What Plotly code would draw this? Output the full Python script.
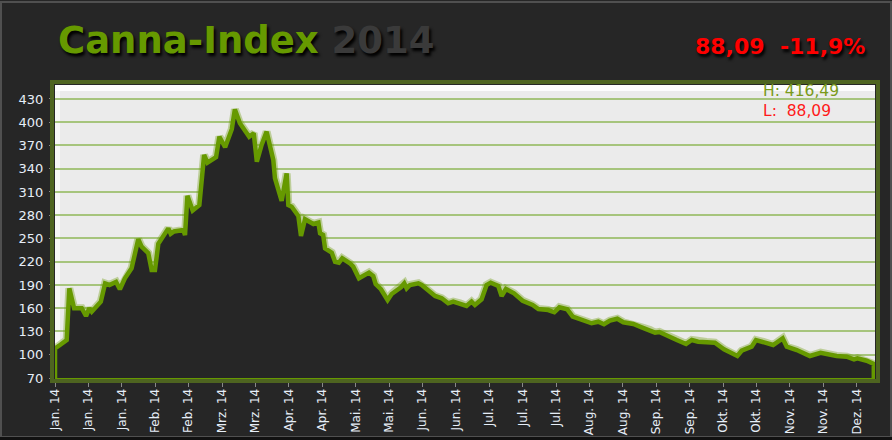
import plotly.graph_objects as go

# ---- data (day offset from 1 Jan 2014, index value) ----
days = [0, 2.1, 4.9, 6.0, 8.0, 11.2, 13.0, 14.4, 15.4, 19.2, 21.0, 22.8, 25.6, 27.2, 29.3,
        32.1, 34.9, 36.3, 39.1, 40.5, 41.9, 43.3, 47.5, 48.5, 49.9, 53.8, 54.5, 55.5, 57.7,
        60.5, 62.5, 63.9, 67.5, 68.9, 71.3, 74.1, 75.4, 77.5, 81.4, 83.3, 84.6, 86.6, 88.7,
        91.5, 92.2, 95.0, 97.1, 97.8, 99.2, 102.0, 103.1, 104.8, 108.3, 110.4, 111.1, 112.4,
        113.2, 116.0, 117.4, 119.0, 120.4, 123.6, 125.0, 127.4, 131.6, 133.4, 134.4, 136.6,
        139.4, 141.1, 145.0, 146.4, 147.4, 148.8, 152.3, 153.7, 155.8, 159.3, 162.1, 164.8,
        166.9, 169.7, 172.5, 174.6, 176.0, 178.8, 180.9, 182.6, 185.8, 187.2, 189.0, 192.4,
        196.0, 200.2, 202.6, 206.7, 209.3, 211.4, 214.7, 217.0, 221.4, 224.9, 227.7, 230.1,
        232.6, 235.7, 238.2, 242.4, 245.9, 249.4, 251.5, 253.3, 257.5, 260.6, 264.5, 266.9,
        269.6, 273.1, 276.6, 280.4, 286.0, 287.8, 292.0, 293.8, 296.9, 301.0, 305.0, 306.7,
        310.9, 316.4, 320.9, 323.1, 327.6, 331.8, 334.9, 336.3, 340.2, 343.2]
values = [108, 112.6, 119, 185.7, 160, 160, 150, 160, 155.6, 168.5, 192, 190, 194, 184.5, 198.6,
          211.5, 249, 239.4, 231, 209.4, 209.4, 243, 263, 256, 259, 261, 254.5, 305, 286,
          293, 357.7, 347.8, 354.8, 381.3, 367.7, 391, 416.49, 398.6, 381.3, 385.7, 349, 370.6, 387.8,
          351.3, 327.7, 298.4, 334, 293, 291, 279, 253.2, 274.8, 268.7, 270.4, 256.7, 254.5,
          237.3, 231.7, 220, 218.8, 224.4, 218, 213.6, 198.6, 205.9, 201.6, 191.3, 184.5,
          170.6, 178.4, 187, 192.2, 185.7, 190, 192.2, 190, 184.5, 175.8, 172.8, 166.4,
          168.5, 166.4, 162.9, 168.5, 164.2, 171.5, 190, 193, 188.7, 175.8, 184.8, 179.3,
          169.7, 164.2, 159, 157.7, 154.8, 161.2, 158.6, 149.1, 144.8, 140.6, 142.6, 139.3,
          144, 146.5, 141.9, 139.7, 135.4, 132, 128.5, 129.4, 124.2, 119, 113.9, 119,
          116.8, 116.5, 115.5, 107, 98.4, 105.2, 110.4, 119, 116.5, 112.6, 121.2, 110.4,
          106.1, 98.4, 102.6, 101, 98.4, 97.5, 94.1, 95.4, 92.3, 88.09]

tick_days = [0, 14, 28, 42, 56, 70, 84, 98, 112, 126, 140, 154, 168, 182, 196, 210,
             224, 238, 252, 266, 280, 294, 308, 322, 336]
tick_labels = ["Jan. 14", "Jan. 14", "Jan. 14", "Feb. 14", "Feb. 14", "Mrz. 14", "Mrz. 14",
               "Apr. 14", "Apr. 14", "Mai. 14", "Mai. 14", "Jun. 14", "Jun. 14", "Jul. 14",
               "Jul. 14", "Jul. 14", "Aug. 14", "Aug. 14", "Sep. 14", "Sep. 14", "Okt. 14",
               "Okt. 14", "Nov. 14", "Nov. 14", "Dez. 14"]
y_ticks = [70, 100, 130, 160, 190, 220, 250, 280, 310, 340, 370, 400, 430]

title_main = "Canna-Index"
title_year = "2014"
last_text = "88,09  -11,9%"
high_text = "H: 416,49"
low_text = "L:  88,09"

Y_MIN, Y_MAX = 70, 448
X_MAX = 343.7

W, H = 892, 440
ML, MR, MT, MB = 55, 17, 85, 62
PW, PH = W - ML - MR, H - MT - MB


def px(x):
    return (x - ML) / PW


def py(y):
    return (H - MB - y) / PH


GREEN = "#669900"
BG = "#262626"

fig = go.Figure()

# area outline (closed to the axis floor at both ends)
xs = [days[0]] + days + [days[-1]]
ys = [Y_MIN] + values + [Y_MIN]
fig.add_trace(go.Scatter(
    x=xs, y=ys, mode="lines",
    line=dict(color="rgba(102,153,0,0.35)", width=8),
    hoverinfo="skip", showlegend=False))
fig.add_trace(go.Scatter(
    x=xs, y=ys, mode="lines", fill="tozeroy", fillcolor=BG,
    line=dict(color=GREEN, width=4.5),
    showlegend=False))

shapes = [
    # white bevel at top of plot
    dict(type="rect", xref="paper", yref="paper", x0=0, x1=1, y0=py(91), y1=1,
         fillcolor="rgba(255,255,255,0.85)", line=dict(width=0), layer="below"),
    dict(type="rect", xref="paper", yref="paper", x0=0, x1=px(60), y0=0, y1=1,
         fillcolor="rgba(255,255,255,0.6)", line=dict(width=0), layer="below"),
    # plot frame
    dict(type="rect", xref="paper", yref="paper", x0=px(52), x1=px(878), y0=py(381), y1=py(82),
         line=dict(color="#4e6420", width=4), fillcolor="rgba(0,0,0,0)", layer="above"),
    # panel border
    dict(type="rect", xref="paper", yref="paper", x0=px(1), x1=px(891), y0=py(437), y1=py(2),
         line=dict(color="#505050", width=2), fillcolor="rgba(0,0,0,0)", layer="below"),
    dict(type="rect", xref="paper", yref="paper", x0=px(0), x1=px(892), y0=py(440), y1=py(437),
         line=dict(width=0), fillcolor="#111111", layer="below"),
]

shadow = "2px 3px 3px #000000"
annotations = [
    dict(xref="paper", yref="paper", x=px(56), y=py(41), xanchor="left", yanchor="middle",
         text=f"{title_main} <span style='color:#3a3a3a'>{title_year}</span>",
         showarrow=False,
         font=dict(family="DejaVu Sans", size=37, color=GREEN, weight="bold", shadow=shadow)),
    dict(xref="paper", yref="paper", x=px(867), y=py(46), xanchor="right", yanchor="middle",
         text=last_text, showarrow=False,
         font=dict(family="DejaVu Sans", size=22, color="#ff0000", weight="bold", shadow=shadow)),
    dict(xref="paper", yref="paper", x=px(761), y=py(91), xanchor="left", yanchor="middle",
         text=high_text, showarrow=False,
         font=dict(family="DejaVu Sans", size=15.5, color="#7a9a1a")),
    dict(xref="paper", yref="paper", x=px(761), y=py(111), xanchor="left", yanchor="middle",
         text=low_text, showarrow=False,
         font=dict(family="DejaVu Sans", size=15.5, color="#ff1a1a")),
]

fig.update_layout(
    width=W, height=H,
    margin=dict(l=ML, r=MR, t=MT, b=MB, pad=0, autoexpand=False),
    paper_bgcolor=BG, plot_bgcolor="#ebebeb",
    shapes=shapes, annotations=annotations,
    font=dict(family="DejaVu Sans", color="#e6eef8"),
    xaxis=dict(range=[0, X_MAX], tickmode="array", tickvals=tick_days, ticktext=tick_labels,
               tickangle=-90, tickfont=dict(size=12, color="#e6eef8"), automargin=False,
               ticklabelstandoff=-3,
               showgrid=False, zeroline=False, showline=True, linecolor=GREEN, linewidth=4,
               ticks="outside", ticklen=5, tickcolor="#8a8a8a", tickwidth=1),
    yaxis=dict(range=[Y_MIN, Y_MAX], tickmode="array", tickvals=y_ticks, automargin=False,
               tickfont=dict(size=13, color="#e6eef8"), ticklabelstandoff=3,
               showgrid=True, gridcolor="#a6c47c", gridwidth=1.5, zeroline=False,
               ticks="outside", ticklen=5, tickcolor="#8a8a8a", showline=False),
)

fig.write_html("out.html", config={"displayModeBar": False},
               post_script="document.body.style.margin='0';document.body.style.overflow='hidden';")
